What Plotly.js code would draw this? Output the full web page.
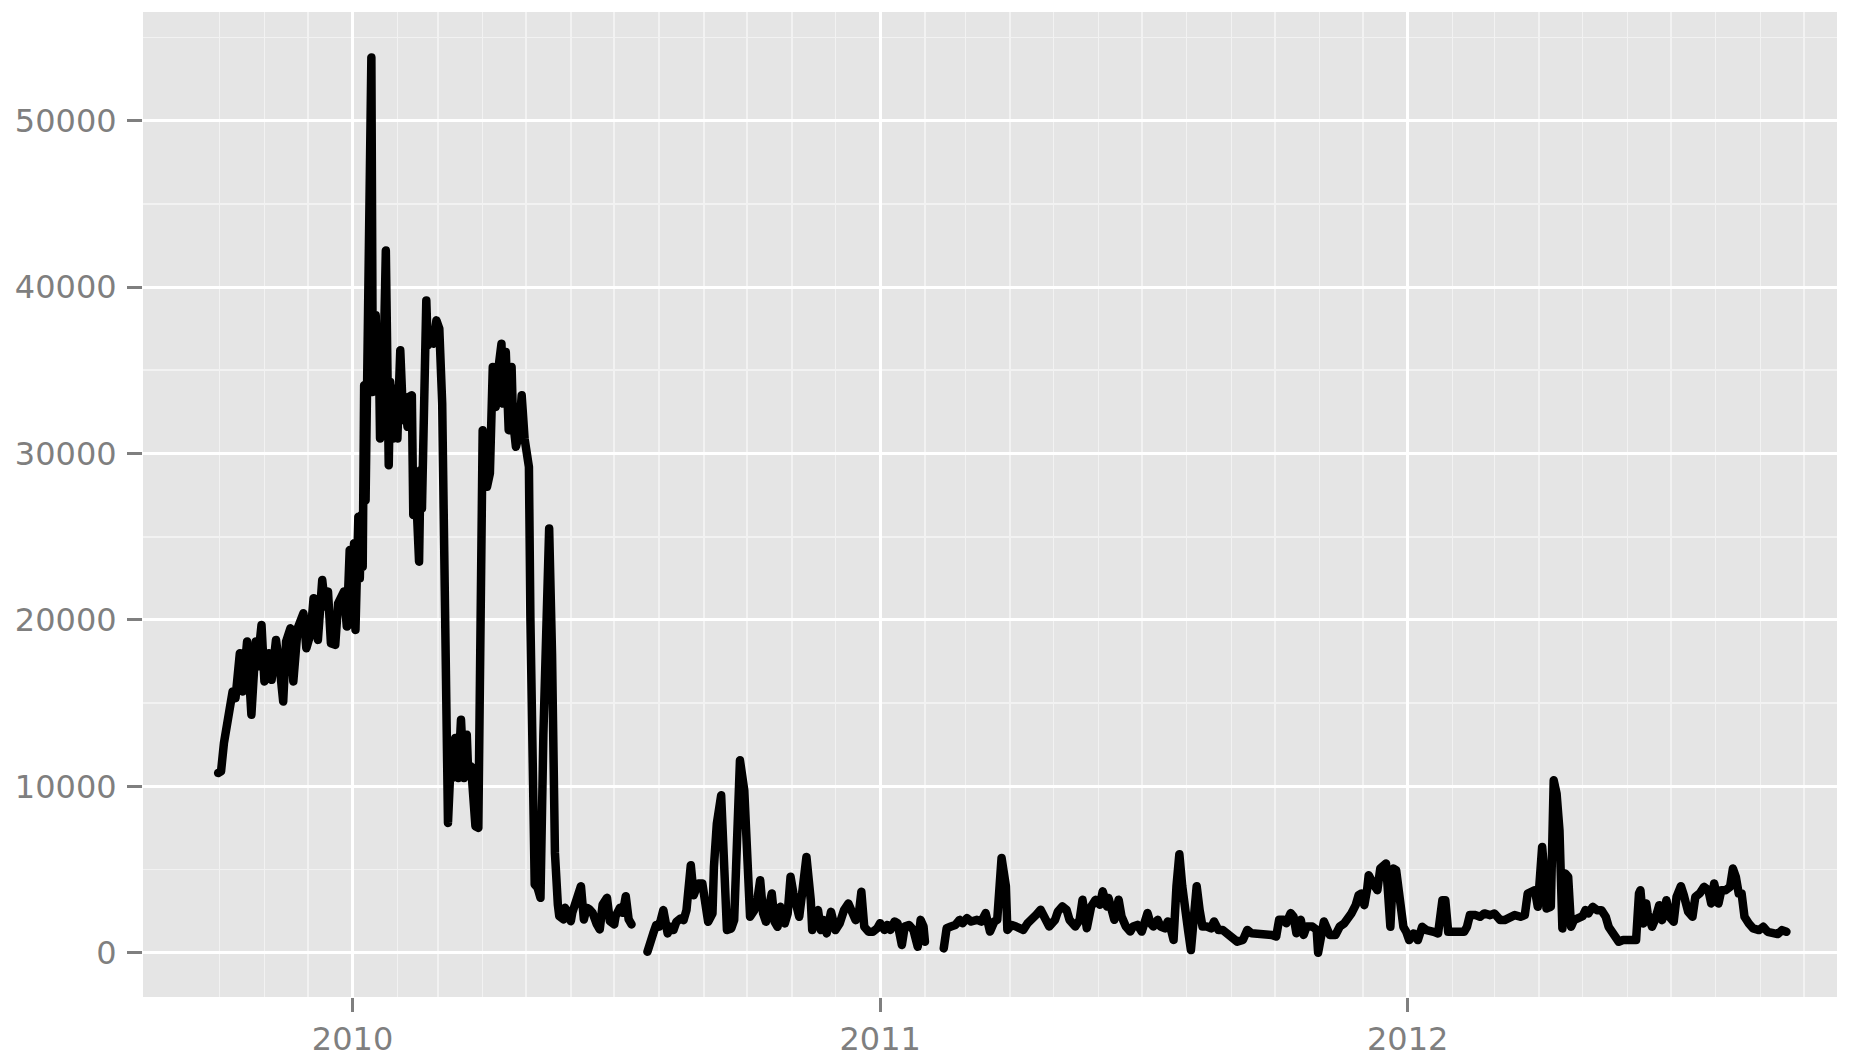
<!DOCTYPE html>
<html>
<head>
<meta charset="utf-8">
<script src="https://cdn.plot.ly/plotly-3.0.1.min.js"></script>
<style>
  html, body { margin: 0; padding: 0; background: #ffffff; }
  #chart { width: 1854px; height: 1058px; }
  .scatterlayer .js-line { stroke-linejoin: round !important; stroke-linecap: round !important; }
</style>
</head>
<body>
<div id="chart"></div>
<script>
// ---- data ----
const dates = [
  "2009-09-30","2009-10-02","2009-10-04","2009-10-07","2009-10-10","2009-10-12","2009-10-15","2009-10-17","2009-10-20","2009-10-23",
  "2009-10-26","2009-10-27","2009-10-30","2009-11-01","2009-11-04","2009-11-06","2009-11-09","2009-11-12","2009-11-14","2009-11-16",
  "2009-11-19","2009-11-21","2009-11-24","2009-11-28","2009-11-30","2009-12-03","2009-12-05","2009-12-08","2009-12-11","2009-12-13",
  "2009-12-15","2009-12-17","2009-12-20","2009-12-22","2009-12-26","2009-12-28","2009-12-30","2010-01-01","2010-01-02","2010-01-03",
  "2010-01-05","2010-01-06","2010-01-07","2010-01-08","2010-01-09","2010-01-10","2010-01-11","2010-01-12","2010-01-14","2010-01-15",
  "2010-01-17","2010-01-18","2010-01-19","2010-01-20","2010-01-22","2010-01-24","2010-01-25","2010-01-26","2010-01-27","2010-01-29",
  "2010-01-31","2010-02-01","2010-02-02","2010-02-03","2010-02-05","2010-02-06","2010-02-08","2010-02-09","2010-02-11","2010-02-12",
  "2010-02-14","2010-02-16","2010-02-17","2010-02-18","2010-02-21","2010-02-22","2010-02-24","2010-02-26","2010-02-28","2010-03-02",
  "2010-03-04","2010-03-07","2010-03-08","2010-03-10","2010-03-11","2010-03-13","2010-03-15","2010-03-17","2010-03-19","2010-03-21",
  "2010-03-22","2010-03-24","2010-03-27","2010-03-29","2010-03-30","2010-03-31","2010-04-01","2010-04-04","2010-04-06","2010-04-08",
  "2010-04-10","2010-04-12","2010-04-14","2010-04-15","2010-04-17","2010-04-19","2010-04-21","2010-04-22","2010-04-24","2010-04-26",
  "2010-04-28","2010-04-30","2010-05-01","2010-05-03","2010-05-04","2010-05-06","2010-05-07","2010-05-09","2010-05-11","2010-05-13",
  "2010-05-15","2010-05-17","2010-05-19","2010-05-21","2010-05-23","2010-05-24","2010-05-27","2010-05-28","2010-05-30","2010-06-01",
  "2010-06-02","2010-06-04","2010-06-06","2010-06-08","2010-06-10","2010-06-12","2010-06-14","2010-06-16","2010-06-19","2010-06-21",
  "2010-06-23","2010-06-26","2010-06-28","2010-07-01","2010-07-02","2010-07-05","2010-07-07","2010-07-09","2010-07-11","2010-07-13",
  "2010-07-18",
  "2010-07-24","2010-07-26","2010-07-28","2010-07-30","2010-08-01","2010-08-04","2010-08-07","2010-08-09","2010-08-11","2010-08-13",
  "2010-08-16","2010-08-18","2010-08-20","2010-08-23","2010-08-25","2010-08-28","2010-08-31","2010-09-04","2010-09-07","2010-09-08",
  "2010-09-10","2010-09-13","2010-09-15","2010-09-17","2010-09-20","2010-09-22","2010-09-24","2010-09-26","2010-09-29","2010-10-01",
  "2010-10-03","2010-10-06","2010-10-08","2010-10-10","2010-10-12","2010-10-14","2010-10-16","2010-10-18","2010-10-20","2010-10-22",
  "2010-10-24","2010-10-27","2010-10-29","2010-10-31","2010-11-02","2010-11-05","2010-11-06","2010-11-08","2010-11-11","2010-11-14",
  "2010-11-15","2010-11-17","2010-11-19","2010-11-21","2010-11-23","2010-11-25","2010-11-28","2010-12-01","2010-12-04","2010-12-07",
  "2010-12-10","2010-12-12","2010-12-15","2010-12-17","2010-12-19","2010-12-21","2010-12-24","2010-12-27","2010-12-30","2011-01-01",
  "2011-01-04","2011-01-06","2011-01-08","2011-01-11","2011-01-13","2011-01-16","2011-01-18","2011-01-21","2011-01-24","2011-01-27",
  "2011-01-29","2011-01-31","2011-02-01",
  "2011-02-07",
  "2011-02-14","2011-02-16","2011-02-19","2011-02-22","2011-02-25","2011-02-27","2011-03-02","2011-03-05","2011-03-09","2011-03-12",
  "2011-03-15","2011-03-18","2011-03-21","2011-03-23","2011-03-26","2011-03-29","2011-03-30","2011-04-02","2011-04-05","2011-04-07",
  "2011-04-10","2011-04-13","2011-04-16","2011-04-19","2011-04-22","2011-04-25","2011-04-28","2011-05-02","2011-05-04","2011-05-07",
  "2011-05-10","2011-05-12","2011-05-16","2011-05-19","2011-05-21","2011-05-24","2011-05-27","2011-05-30","2011-06-02","2011-06-04",
  "2011-06-07","2011-06-08","2011-06-10","2011-06-12","2011-06-15","2011-06-17","2011-06-20","2011-06-23","2011-06-25","2011-06-28",
  "2011-07-01","2011-07-02","2011-07-05","2011-07-07","2011-07-09","2011-07-12","2011-07-14","2011-07-17","2011-07-19","2011-07-21",
  "2011-07-23","2011-07-25","2011-07-27","2011-07-29","2011-07-31","2011-08-02","2011-08-04","2011-08-06","2011-08-08","2011-08-10",
  "2011-08-12","2011-08-15","2011-08-18","2011-08-20","2011-08-23","2011-08-26","2011-08-29","2011-09-02","2011-09-05","2011-09-09",
  "2011-09-12","2011-09-15","2011-09-19","2011-09-22","2011-09-26","2011-09-29","2011-10-02","2011-10-04","2011-10-07","2011-10-09",
  "2011-10-12","2011-10-14","2011-10-16","2011-10-19","2011-10-21","2011-10-23","2011-10-27","2011-10-30","2011-10-31","2011-11-02",
  "2011-11-04","2011-11-06","2011-11-08","2011-11-12","2011-11-15","2011-11-18","2011-11-20","2011-11-23","2011-11-26","2011-11-28",
  "2011-11-30","2011-12-02","2011-12-04","2011-12-05","2011-12-08","2011-12-11","2011-12-13","2011-12-17","2011-12-20","2011-12-22",
  "2011-12-24","2011-12-26","2011-12-29","2011-12-31","2012-01-02","2012-01-05","2012-01-08","2012-01-11","2012-01-14","2012-01-19",
  "2012-01-22","2012-01-25","2012-01-27","2012-01-29","2012-02-02","2012-02-05","2012-02-09","2012-02-11","2012-02-13","2012-02-17",
  "2012-02-20","2012-02-23","2012-02-27","2012-03-01","2012-03-05","2012-03-08","2012-03-12","2012-03-15","2012-03-19","2012-03-22",
  "2012-03-24","2012-03-27","2012-03-29","2012-03-31","2012-04-03","2012-04-05","2012-04-06","2012-04-09","2012-04-11","2012-04-13",
  "2012-04-15","2012-04-17","2012-04-19","2012-04-21","2012-04-23","2012-04-25","2012-04-28","2012-05-01","2012-05-03","2012-05-05",
  "2012-05-08","2012-05-11","2012-05-14","2012-05-17","2012-05-19","2012-05-22","2012-05-24","2012-05-26","2012-05-29","2012-06-01",
  "2012-06-05","2012-06-07","2012-06-09","2012-06-10","2012-06-12","2012-06-14","2012-06-15","2012-06-18","2012-06-20","2012-06-23",
  "2012-06-25","2012-06-28","2012-06-30","2012-07-03","2012-07-05","2012-07-08","2012-07-10","2012-07-13","2012-07-16","2012-07-18",
  "2012-07-21","2012-07-24","2012-07-27","2012-07-29","2012-07-31","2012-08-01","2012-08-03","2012-08-05","2012-08-08","2012-08-11",
  "2012-08-13","2012-08-15","2012-08-17","2012-08-19","2012-08-21","2012-08-24","2012-08-27","2012-08-31","2012-09-03","2012-09-06",
  "2012-09-10","2012-09-13","2012-09-16","2012-09-19"
];

const counts = [
  10800,10900,12600,13900,15700,15300,18000,15700,18700,14300,
  18700,17200,19700,16300,18000,16400,18800,16800,15100,18700,
  19500,16300,19500,20400,18300,19200,21300,18800,22400,20800,
  21700,18600,18500,21000,21700,19600,24200,19700,24600,19400,
  26200,22500,26300,23200,34100,27200,34000,31400,53800,33700,
  38300,33700,37300,30900,33600,42200,32300,29300,34300,30900,
  33900,30900,33700,36200,32000,33400,31600,33400,33500,26300,
  27500,23500,29000,26700,39200,36500,37100,36600,38000,37500,
  33000,11000,7800,11700,10500,12900,10500,14000,10500,13100,
  10800,11200,7600,7500,17900,28100,31400,28000,28800,35200,
  32800,35200,36600,33000,36100,31400,35200,32000,30400,31100,
  33500,30900,30500,29200,20200,10700,4100,3900,3300,13100,
  17900,25500,17900,6000,2900,2200,2000,2700,2400,1900,
  2400,3000,3200,4000,2000,2700,2600,2400,1700,1400,
  2900,3300,1900,1700,2200,2700,2400,3400,2000,1700,
  null,
  60,860,1160,1660,1560,2560,1160,1560,1360,1860,
  2060,1960,2560,5260,3460,4160,4160,1860,2360,5160,
  7760,9460,5160,1360,1460,1960,6760,11560,9760,3760,
  2160,2560,3160,4360,2360,1860,2560,3560,1860,1560,
  2760,1760,2360,4560,3560,2160,2160,3560,5760,3160,
  1360,1960,2560,1360,1960,1160,2460,1360,1760,2560,
  2960,2560,1960,2160,3660,1560,1260,1260,1470,1775,
  1370,1670,1370,1875,1775,465,1575,1670,1370,360,
  1975,1575,665,
  null,
  260,1470,1575,1670,1975,1775,2075,1875,1975,1875,
  2380,1270,1875,1975,5700,4000,1370,1670,1575,1470,
  1370,1775,1975,2280,2580,2180,1575,1975,2480,2780,
  2580,1975,1575,1975,3180,1470,2780,3180,2880,3690,
  2780,3290,2280,1980,3190,2180,1575,1270,1575,1670,
  1270,1575,2380,1775,1575,1975,1575,1470,1875,1470,
  770,4000,5920,4000,1975,1370,160,1775,4000,2580,
  1575,1575,1470,1875,1370,1370,1170,870,665,770,
  1370,1170,1170,1170,1070,1070,970,1975,1975,1775,
  2380,2180,1170,1975,1070,1575,1575,1370,0,1370,
  1875,1470,1070,1070,1575,1760,1960,2360,2860,3460,
  3560,2860,3860,4660,4160,3760,5060,5360,1560,5060,
  4960,3360,1560,1260,760,1160,760,1560,1360,1260,
  1160,3160,3160,1260,1260,1260,1260,1560,2260,2260,
  2160,2360,2260,2360,1960,1960,2060,2260,2160,2260,
  3560,3760,3760,2760,6360,4360,2660,2760,10360,9560,
  7360,1460,4760,4560,1560,1960,2160,2200,2560,2360,
  2760,2560,2560,2160,1560,1160,760,660,760,800,
  760,760,3560,3760,1760,2960,2360,1560,1960,2860,
  1960,3160,2160,1860,3360,4000,3460,2460,2160,3360,
  3560,3960,3760,2960,4160,3560,2960,3760,3760,3960,
  5060,4560,3560,3560,2160,1760,1460,1360,1560,1260,
  1160,1120,1360,1260
];

const yTickVals = [0, 10000, 20000, 30000, 40000, 50000];
const yTickText = ["0", "10000", "20000", "30000", "40000", "50000"];
const xTickVals = ["2010-01-01", "2011-01-01", "2012-01-01"];
const xTickText = ["2010", "2011", "2012"];
const xMinorBreaks = [
  "2009-10-01","2009-11-01","2009-12-01","2010-01-01","2010-02-01","2010-03-01","2010-04-01","2010-05-01",
  "2010-06-01","2010-07-01","2010-08-01","2010-09-01","2010-10-01","2010-11-01","2010-12-01","2011-01-01",
  "2011-02-01","2011-03-01","2011-04-01","2011-05-01","2011-06-01","2011-07-01","2011-08-01","2011-09-01",
  "2011-10-01","2011-11-01","2011-12-01","2012-01-01","2012-02-01","2012-03-01","2012-04-01","2012-05-01",
  "2012-06-01","2012-07-01","2012-08-01","2012-09-01","2012-10-01"
];
const yMinorBreaks = [5000, 15000, 25000, 35000, 45000, 55000];

const trace = {
  type: "scatter",
  mode: "lines",
  x: dates,
  y: counts,
  connectgaps: false,
  line: { color: "#000000", width: 8.5 },
  hoverinfo: "x+y"
};

const axisFont = { family: "DejaVu Sans, sans-serif", size: 32, color: "#7f7f7f" };

const layout = {
  width: 1854,
  height: 1058,
  margin: { l: 143, r: 17, t: 12, b: 61, pad: 0 },
  paper_bgcolor: "#ffffff",
  plot_bgcolor: "#e5e5e5",
  showlegend: false,
  xaxis: {
    type: "date",
    range: ["2009-08-09", "2012-10-24"],
    tickmode: "array",
    tickvals: xTickVals,
    ticktext: xTickText,
    tickfont: axisFont,
    ticks: "outside",
    ticklen: 14,
    tickwidth: 3,
    tickcolor: "#7f7f7f",
    ticklabelstandoff: 0,
    showgrid: true,
    gridcolor: "#ffffff",
    gridwidth: 3,
    zeroline: false,
    showline: false,
    minor: {
      tickmode: "array",
      tickvals: xMinorBreaks,
      showgrid: true,
      gridcolor: "#f2f2f2",
      gridwidth: 1.6,
      ticks: ""
    }
  },
  yaxis: {
    range: [-2660, 56530],
    tickmode: "array",
    tickvals: yTickVals,
    ticktext: yTickText,
    tickfont: axisFont,
    ticks: "outside",
    ticklen: 15,
    tickwidth: 3,
    tickcolor: "#7f7f7f",
    ticklabelstandoff: 4,
    showgrid: true,
    gridcolor: "#ffffff",
    gridwidth: 3,
    zeroline: false,
    showline: false,
    minor: {
      tickmode: "array",
      tickvals: yMinorBreaks,
      showgrid: true,
      gridcolor: "#f2f2f2",
      gridwidth: 1.6,
      ticks: ""
    }
  }
};

Plotly.newPlot("chart", [trace], layout, { displayModeBar: false, staticPlot: true });
</script>
</body>
</html>
